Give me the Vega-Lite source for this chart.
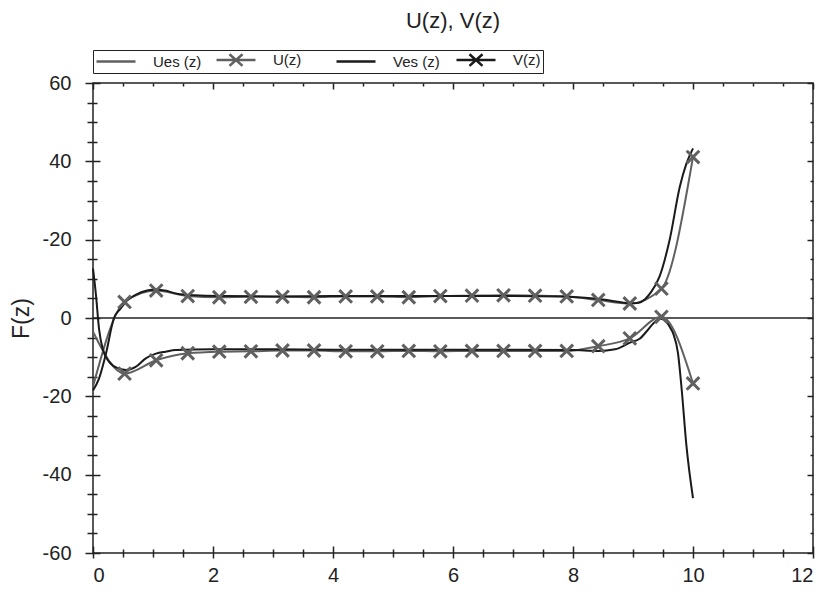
{
  "$schema": "https://vega.github.io/schema/vega-lite/v6.json",
  "width": 720,
  "height": 470,
  "autosize": {"type": "none"},
  "padding": {"left": 93, "top": 83, "right": 17, "bottom": 41},
  "background": "white",
  "title": {"text": "U(z), V(z)", "font": "Liberation Sans", "fontSize": 22, "fontWeight": "normal", "color": "#222", "anchor": "middle", "offset": 17},
  "config": {
    "view": {"stroke": "#222", "strokeWidth": 1.5},
    "axis": {"grid": false, "domain": false, "tickColor": "#222", "tickWidth": 1.5, "labelFont": "Liberation Sans", "labelFontSize": 20, "labelColor": "#222", "titleFont": "Liberation Sans", "titleColor": "#222"}
  },
  "datasets": {
    "zero": [{"x": 0, "y": 0}, {"x": 12, "y": 0}],
    "smooth": [
      {"x": 0, "y": -18.5, "s": "Ves (z)"},
      {"x": 0.1, "y": -15.5, "s": "Ves (z)"},
      {"x": 0.21, "y": -9.5, "s": "Ves (z)"},
      {"x": 0.35, "y": 0, "s": "Ves (z)"},
      {"x": 0.46, "y": 2.4, "s": "Ves (z)"},
      {"x": 0.57, "y": 4.5, "s": "Ves (z)"},
      {"x": 0.71, "y": 5.9, "s": "Ves (z)"},
      {"x": 0.9, "y": 7.0, "s": "Ves (z)"},
      {"x": 1.05, "y": 7.3, "s": "Ves (z)"},
      {"x": 1.2, "y": 7.0, "s": "Ves (z)"},
      {"x": 1.4, "y": 6.2, "s": "Ves (z)"},
      {"x": 1.7, "y": 5.8, "s": "Ves (z)"},
      {"x": 2.2, "y": 5.6, "s": "Ves (z)"},
      {"x": 3, "y": 5.5, "s": "Ves (z)"},
      {"x": 4, "y": 5.6, "s": "Ves (z)"},
      {"x": 5, "y": 5.6, "s": "Ves (z)"},
      {"x": 6, "y": 5.6, "s": "Ves (z)"},
      {"x": 7, "y": 5.6, "s": "Ves (z)"},
      {"x": 7.8, "y": 5.5, "s": "Ves (z)"},
      {"x": 8.2, "y": 5.2, "s": "Ves (z)"},
      {"x": 8.5, "y": 4.7, "s": "Ves (z)"},
      {"x": 8.8, "y": 4.0, "s": "Ves (z)"},
      {"x": 8.95, "y": 3.7, "s": "Ves (z)"},
      {"x": 9.1, "y": 3.9, "s": "Ves (z)"},
      {"x": 9.2, "y": 4.8, "s": "Ves (z)"},
      {"x": 9.3, "y": 6.6, "s": "Ves (z)"},
      {"x": 9.44, "y": 10.5, "s": "Ves (z)"},
      {"x": 9.61, "y": 19.9, "s": "Ves (z)"},
      {"x": 9.78, "y": 33.5, "s": "Ves (z)"},
      {"x": 9.89, "y": 39.4, "s": "Ves (z)"},
      {"x": 10, "y": 43.3, "s": "Ves (z)"},
      {"x": 0, "y": 12.6, "s": "V(z)"},
      {"x": 0.05, "y": 5.8, "s": "V(z)"},
      {"x": 0.1, "y": -2.7, "s": "V(z)"},
      {"x": 0.16, "y": -7.8, "s": "V(z)"},
      {"x": 0.27, "y": -11.2, "s": "V(z)"},
      {"x": 0.43, "y": -12.9, "s": "V(z)"},
      {"x": 0.55, "y": -13.3, "s": "V(z)"},
      {"x": 0.71, "y": -12.5, "s": "V(z)"},
      {"x": 0.88, "y": -10.3, "s": "V(z)"},
      {"x": 1.05, "y": -9.1, "s": "V(z)"},
      {"x": 1.21, "y": -8.6, "s": "V(z)"},
      {"x": 1.38, "y": -8.2, "s": "V(z)"},
      {"x": 2, "y": -8.0, "s": "V(z)"},
      {"x": 3, "y": -8.0, "s": "V(z)"},
      {"x": 4, "y": -8.1, "s": "V(z)"},
      {"x": 5, "y": -8.1, "s": "V(z)"},
      {"x": 6, "y": -8.1, "s": "V(z)"},
      {"x": 7, "y": -8.1, "s": "V(z)"},
      {"x": 8, "y": -8.2, "s": "V(z)"},
      {"x": 8.42, "y": -8.4, "s": "V(z)"},
      {"x": 8.7, "y": -8.0, "s": "V(z)"},
      {"x": 8.95, "y": -6.3, "s": "V(z)"},
      {"x": 9.11, "y": -5.3, "s": "V(z)"},
      {"x": 9.25, "y": -3.0, "s": "V(z)"},
      {"x": 9.35, "y": -1.2, "s": "V(z)"},
      {"x": 9.46, "y": -0.2, "s": "V(z)"},
      {"x": 9.55, "y": -0.8, "s": "V(z)"},
      {"x": 9.62, "y": -2.5, "s": "V(z)"},
      {"x": 9.67, "y": -4.0, "s": "V(z)"},
      {"x": 9.75, "y": -9.0, "s": "V(z)"},
      {"x": 9.81, "y": -18.0, "s": "V(z)"},
      {"x": 9.89, "y": -32.5, "s": "V(z)"},
      {"x": 10, "y": -46.0, "s": "V(z)"}
    ],
    "marked": [
      {"x": 0, "y": -17.5, "s": "U(z)"},
      {"x": 0.526, "y": 4.1, "s": "U(z)"},
      {"x": 1.053, "y": 7.0, "s": "U(z)"},
      {"x": 1.579, "y": 5.6, "s": "U(z)"},
      {"x": 2.105, "y": 5.3, "s": "U(z)"},
      {"x": 2.632, "y": 5.4, "s": "U(z)"},
      {"x": 3.158, "y": 5.4, "s": "U(z)"},
      {"x": 3.684, "y": 5.3, "s": "U(z)"},
      {"x": 4.211, "y": 5.5, "s": "U(z)"},
      {"x": 4.737, "y": 5.5, "s": "U(z)"},
      {"x": 5.263, "y": 5.3, "s": "U(z)"},
      {"x": 5.789, "y": 5.6, "s": "U(z)"},
      {"x": 6.316, "y": 5.7, "s": "U(z)"},
      {"x": 6.842, "y": 5.8, "s": "U(z)"},
      {"x": 7.368, "y": 5.7, "s": "U(z)"},
      {"x": 7.895, "y": 5.5, "s": "U(z)"},
      {"x": 8.421, "y": 4.6, "s": "U(z)"},
      {"x": 8.947, "y": 3.7, "s": "U(z)"},
      {"x": 9.474, "y": 7.5, "s": "U(z)"},
      {"x": 10, "y": 41.1, "s": "U(z)"},
      {"x": 0, "y": -3.5, "s": "Ues (z)"},
      {"x": 0.526, "y": -14.2, "s": "Ues (z)"},
      {"x": 1.053, "y": -10.8, "s": "Ues (z)"},
      {"x": 1.579, "y": -9.0, "s": "Ues (z)"},
      {"x": 2.105, "y": -8.6, "s": "Ues (z)"},
      {"x": 2.632, "y": -8.5, "s": "Ues (z)"},
      {"x": 3.158, "y": -8.3, "s": "Ues (z)"},
      {"x": 3.684, "y": -8.3, "s": "Ues (z)"},
      {"x": 4.211, "y": -8.5, "s": "Ues (z)"},
      {"x": 4.737, "y": -8.5, "s": "Ues (z)"},
      {"x": 5.263, "y": -8.4, "s": "Ues (z)"},
      {"x": 5.789, "y": -8.5, "s": "Ues (z)"},
      {"x": 6.316, "y": -8.4, "s": "Ues (z)"},
      {"x": 6.842, "y": -8.4, "s": "Ues (z)"},
      {"x": 7.368, "y": -8.4, "s": "Ues (z)"},
      {"x": 7.895, "y": -8.4, "s": "Ues (z)"},
      {"x": 8.421, "y": -7.2, "s": "Ues (z)"},
      {"x": 8.947, "y": -5.2, "s": "Ues (z)"},
      {"x": 9.474, "y": 0.3, "s": "Ues (z)"},
      {"x": 10, "y": -16.7, "s": "Ues (z)"}
    ]
  },
  "resolve": {"axis": {"x": "independent", "y": "independent"}},
  "layer": [
    {
      "data": {"name": "zero"},
      "mark": {"type": "line", "color": "#222", "strokeWidth": 1.5},
      "encoding": {
        "x": {"field": "x", "type": "quantitative", "scale": {"domain": [0, 12], "nice": false, "zero": false},
              "axis": {"orient": "top", "values": [0, 2, 4, 6, 8, 10, 12], "labels": false, "offset": -6, "tickSize": 6, "title": null}},
        "y": {"field": "y", "type": "quantitative", "scale": {"domain": [-60, 60], "nice": false, "zero": false},
              "axis": {"orient": "right", "values": [-60, -40, -20, 0, 20, 40, 60], "labels": false, "offset": -6, "tickSize": 6, "title": null}}
      }
    },
    {
      "data": {"name": "marked"},
      "mark": {"type": "line", "strokeWidth": 2, "interpolate": "monotone"},
      "encoding": {
        "x": {"field": "x", "type": "quantitative",
              "axis": {"orient": "bottom", "values": [0, 2, 4, 6, 8, 10, 12], "offset": -7, "tickSize": 12, "labelPadding": 7, "labelFontSize": 20, "title": null}},
        "y": {"field": "y", "type": "quantitative",
              "axis": {"orient": "left", "values": [-60, -40, -20, 0, 20, 40, 60], "offset": -7, "tickSize": 15, "labelPadding": 14, "labelFontSize": 20,
                       "labelExpr": "datum.value === 20 ? '-20' : '' + datum.value", "title": "F(z)", "titleFontSize": 23, "titleFontWeight": "normal", "titlePadding": 9}},
        "color": {"field": "s", "type": "nominal",
                  "scale": {"domain": ["Ues (z)", "U(z)", "Ves (z)", "V(z)"], "range": ["#606060", "#606060", "#1a1a1a", "#1a1a1a"]},
                  "legend": {"title": null, "orient": "top", "direction": "horizontal", "offset": 9, "padding": 2,
                             "strokeColor": "#222", "fillColor": "white", "symbolSize": 169, "symbolStrokeWidth": 2.5,
                             "symbolOffset": 13,
                             "labelFont": "Liberation Sans", "labelFontSize": 15, "labelColor": "#222", "labelOffset": 29,
                             "columnPadding": 9, "gridAlign": "all",
                             "encode": {"symbols": {"update": {
                               "shape": {"signal": "datum.value === 'U(z)' || datum.value === 'V(z)' ? 'M-3,0H3M-1,-0.9L1,0.9M-1,0.9L1,-0.9' : 'M-3,0H3'"}
                             }}}}}
      }
    },
    {
      "data": {"name": "smooth"},
      "mark": {"type": "line", "strokeWidth": 2, "interpolate": "monotone"},
      "encoding": {
        "x": {"field": "x", "type": "quantitative",
              "axis": {"orient": "top", "values": [0.5, 1, 1.5, 2.5, 3, 3.5, 4.5, 5, 5.5, 6.5, 7, 7.5, 8.5, 9, 9.5, 10.5, 11, 11.5], "labels": false, "offset": -3, "tickSize": 3, "title": null}},
        "y": {"field": "y", "type": "quantitative",
              "axis": {"orient": "right", "values": [-55, -50, -45, -35, -30, -25, -15, -10, -5, 5, 10, 15, 25, 30, 35, 45, 50, 55], "labels": false, "offset": -3, "tickSize": 3, "title": null}},
        "color": {"field": "s", "type": "nominal"}
      }
    },
    {
      "data": {"name": "marked"},
      "transform": [{"filter": "datum.x > 0"}],
      "mark": {"type": "point", "shape": "M-1,-1L1,1M-1,1L1,-1", "size": 160, "strokeWidth": 3, "color": "#606060", "filled": false, "opacity": 1},
      "encoding": {
        "x": {"field": "x", "type": "quantitative",
              "axis": {"orient": "bottom", "values": [0.5, 1, 1.5, 2.5, 3, 3.5, 4.5, 5, 5.5, 6.5, 7, 7.5, 8.5, 9, 9.5, 10.5, 11, 11.5], "labels": false, "offset": -4, "tickSize": 8, "title": null}},
        "y": {"field": "y", "type": "quantitative",
              "axis": {"orient": "left", "values": [-55, -50, -45, -35, -30, -25, -15, -10, -5, 5, 10, 15, 25, 30, 35, 45, 50, 55], "labels": false, "offset": -4, "tickSize": 10, "title": null}}
      }
    }
  ]
}
